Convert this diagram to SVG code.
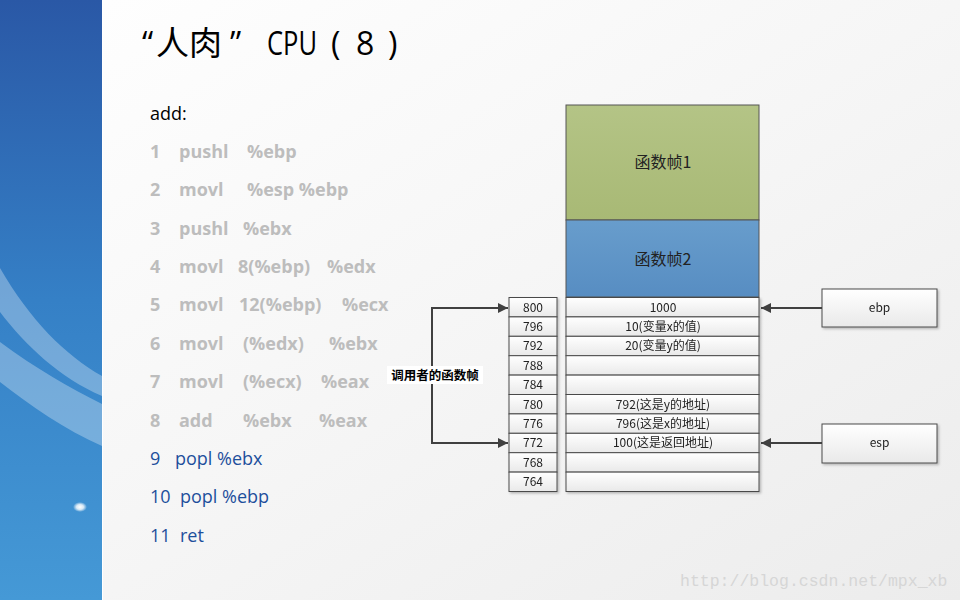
<svg xmlns="http://www.w3.org/2000/svg" width="960" height="600" viewBox="0 0 960 600">
<defs>
<linearGradient id="bg" x1="0" y1="0" x2="1" y2="1"><stop offset="0" stop-color="#ffffff"/><stop offset="0.5" stop-color="#f6f6f6"/><stop offset="1" stop-color="#ececec"/></linearGradient>
<linearGradient id="side" x1="0" y1="0" x2="0" y2="1"><stop offset="0" stop-color="#2a58a6"/><stop offset="0.5" stop-color="#3580c6"/><stop offset="1" stop-color="#4599d6"/></linearGradient>
<linearGradient id="green" x1="0" y1="0" x2="0" y2="1"><stop offset="0" stop-color="#b4c486"/><stop offset="1" stop-color="#a8b975"/></linearGradient>
<linearGradient id="blue" x1="0" y1="0" x2="0" y2="1"><stop offset="0" stop-color="#689dcc"/><stop offset="1" stop-color="#578dc2"/></linearGradient>
<linearGradient id="cell" x1="0" y1="0" x2="0" y2="1"><stop offset="0" stop-color="#ffffff"/><stop offset="1" stop-color="#e9e9e9"/></linearGradient>
<radialGradient id="glow"><stop offset="0" stop-color="#ffffff"/><stop offset="0.5" stop-color="#ffffff" stop-opacity="0.8"/><stop offset="1" stop-color="#ffffff" stop-opacity="0"/></radialGradient>
<marker id="ah" viewBox="0 0 10 10" refX="10" refY="5" markerWidth="10" markerHeight="10" markerUnits="userSpaceOnUse" orient="auto"><path d="M0,0 L10,5 L0,10 z" fill="#404040"/></marker>
<filter id="sh" x="-10%" y="-10%" width="130%" height="140%"><feDropShadow dx="1.5" dy="1.5" stdDeviation="1" flood-color="#000" flood-opacity="0.25"/></filter>
</defs>
<style>
.title{font-family:"Open Sans","Noto Sans CJK SC",sans-serif;font-size:32px;fill:#000}
.cjk{font-family:"Noto Sans CJK SC",sans-serif;font-size:33px}
.code{font-family:"Open Sans","Liberation Sans",sans-serif;font-size:18px}
.g{fill:#bdbdbd;font-weight:bold}
.b{fill:#1d4f9c}
.k{fill:#000}
.cell{fill:url(#cell);stroke:#4a4a4a;stroke-width:1}
.ct{font-family:"Noto Sans CJK SC",sans-serif;font-size:12px;fill:#222;text-anchor:middle}
.ft{font-family:"Noto Sans CJK SC",sans-serif;font-size:16px;fill:#222;text-anchor:middle}
.conn{fill:none;stroke:#404040;stroke-width:2}
.reg{fill:url(#cell);stroke:#4a4a4a;stroke-width:1}
</style>
<rect width="960" height="600" fill="url(#bg)"/>
<rect width="102" height="600" fill="url(#side)"/>
<path d="M0,268 C30,320 65,355 102,376 L102,396 C60,378 25,345 0,312 z" fill="#ffffff" fill-opacity="0.3"/>
<path d="M0,342 C35,368 70,388 102,404 L102,446 C65,430 30,405 0,382 z" fill="#ffffff" fill-opacity="0.3"/>
<ellipse cx="80" cy="507" rx="7" ry="5" fill="url(#glow)"/>
<line x1="102.5" y1="0" x2="102.5" y2="600" stroke="#ffffff" stroke-width="1"/>
<text class="title" y="55"><tspan x="142">“</tspan><tspan class="cjk" x="156">人肉</tspan><tspan x="230">”</tspan><tspan x="267" textLength="50" lengthAdjust="spacingAndGlyphs">CPU</tspan><tspan x="331">(</tspan><tspan x="356">8</tspan><tspan x="388">)</tspan></text>
<g class="code">
<text class="k" x="150" y="120">add:</text>
<text class="g" y="158"><tspan x="150">1</tspan><tspan x="179">pushl</tspan><tspan x="247">%ebp</tspan></text>
<text class="g" y="196"><tspan x="150">2</tspan><tspan x="179">movl</tspan><tspan x="247">%esp %ebp</tspan></text>
<text class="g" y="235"><tspan x="150">3</tspan><tspan x="179">pushl</tspan><tspan x="243">%ebx</tspan></text>
<text class="g" y="273"><tspan x="150">4</tspan><tspan x="179">movl</tspan><tspan x="238">8(%ebp)</tspan><tspan x="327">%edx</tspan></text>
<text class="g" y="311"><tspan x="150">5</tspan><tspan x="179">movl</tspan><tspan x="239">12(%ebp)</tspan><tspan x="342">%ecx</tspan></text>
<text class="g" y="350"><tspan x="150">6</tspan><tspan x="179">movl</tspan><tspan x="243">(%edx)</tspan><tspan x="329">%ebx</tspan></text>
<text class="g" y="388"><tspan x="150">7</tspan><tspan x="179">movl</tspan><tspan x="243">(%ecx)</tspan><tspan x="321">%eax</tspan></text>
<text class="g" y="427"><tspan x="150">8</tspan><tspan x="179">add</tspan><tspan x="243">%ebx</tspan><tspan x="319">%eax</tspan></text>
<text class="b" y="465"><tspan x="150">9</tspan><tspan x="175">popl %ebx</tspan></text>
<text class="b" y="503"><tspan x="150">10</tspan><tspan x="180">popl %ebp</tspan></text>
<text class="b" y="542"><tspan x="150">11</tspan><tspan x="180">ret</tspan></text>
</g>
<g id="frame1"><rect x="566" y="105" width="193" height="115" fill="url(#green)" stroke="#555" stroke-width="1"/><text class="ft" x="663" y="168">函数帧1</text></g>
<g id="frame2"><rect x="566" y="220" width="193" height="77" fill="url(#blue)" stroke="#555" stroke-width="1"/><text class="ft" x="663" y="265">函数帧2</text></g>
<g id="stack" filter="url(#sh)">
<g id="r800"><rect class="cell" x="509" y="297.5" width="48" height="19.4"/><text class="ct" x="533" y="311.5">800</text><rect class="cell" x="566" y="297.5" width="193" height="19.4"/><text class="ct" x="663" y="311.5">1000</text></g>
<g id="r796"><rect class="cell" x="509" y="316.9" width="48" height="19.4"/><text class="ct" x="533" y="330.9">796</text><rect class="cell" x="566" y="316.9" width="193" height="19.4"/><text class="ct" x="663" y="330.9">10(变量x的值)</text></g>
<g id="r792"><rect class="cell" x="509" y="336.3" width="48" height="19.4"/><text class="ct" x="533" y="350.3">792</text><rect class="cell" x="566" y="336.3" width="193" height="19.4"/><text class="ct" x="663" y="350.3">20(变量y的值)</text></g>
<g id="r788"><rect class="cell" x="509" y="355.7" width="48" height="19.4"/><text class="ct" x="533" y="369.7">788</text><rect class="cell" x="566" y="355.7" width="193" height="19.4"/></g>
<g id="r784"><rect class="cell" x="509" y="375.1" width="48" height="19.4"/><text class="ct" x="533" y="389.1">784</text><rect class="cell" x="566" y="375.1" width="193" height="19.4"/></g>
<g id="r780"><rect class="cell" x="509" y="394.5" width="48" height="19.4"/><text class="ct" x="533" y="408.5">780</text><rect class="cell" x="566" y="394.5" width="193" height="19.4"/><text class="ct" x="663" y="408.5">792(这是y的地址)</text></g>
<g id="r776"><rect class="cell" x="509" y="413.9" width="48" height="19.4"/><text class="ct" x="533" y="427.9">776</text><rect class="cell" x="566" y="413.9" width="193" height="19.4"/><text class="ct" x="663" y="427.9">796(这是x的地址)</text></g>
<g id="r772"><rect class="cell" x="509" y="433.3" width="48" height="19.4"/><text class="ct" x="533" y="447.3">772</text><rect class="cell" x="566" y="433.3" width="193" height="19.4"/><text class="ct" x="663" y="447.3">100(这是返回地址)</text></g>
<g id="r768"><rect class="cell" x="509" y="452.7" width="48" height="19.4"/><text class="ct" x="533" y="466.7">768</text><rect class="cell" x="566" y="452.7" width="193" height="19.4"/></g>
<g id="r764"><rect class="cell" x="509" y="472.1" width="48" height="19.4"/><text class="ct" x="533" y="486.1">764</text><rect class="cell" x="566" y="472.1" width="193" height="19.4"/></g>
</g>
<g id="ebp" filter="url(#sh)"><rect class="reg" x="822" y="289" width="115" height="38"/><text class="ct" x="879.5" y="312" font-size="13">ebp</text></g>
<g id="esp" filter="url(#sh)"><rect class="reg" x="822" y="424" width="115" height="39"/><text class="ct" x="879.5" y="447" font-size="13">esp</text></g>
<g id="connectors">
<path class="conn" d="M822,308 L761,308" marker-end="url(#ah)"/>
<path class="conn" d="M822,443 L761,443" marker-end="url(#ah)"/>
<path class="conn" d="M432,375 L432,308 L508,308" marker-end="url(#ah)"/>
<path class="conn" d="M432,375 L432,443 L508,443" marker-end="url(#ah)"/>
</g>
<g id="callerlabel"><rect x="387" y="366" width="96" height="18" fill="#ffffff"/><text x="435" y="380" font-family="Noto Sans CJK SC,sans-serif" font-weight="bold" font-size="12.5" fill="#000" text-anchor="middle">调用者的函数帧</text></g>
<text x="680" y="586" font-family="Liberation Mono,monospace" font-size="16.5" fill="#d6d6d6">http://blog.csdn.net/mpx_xb</text>
</svg>
